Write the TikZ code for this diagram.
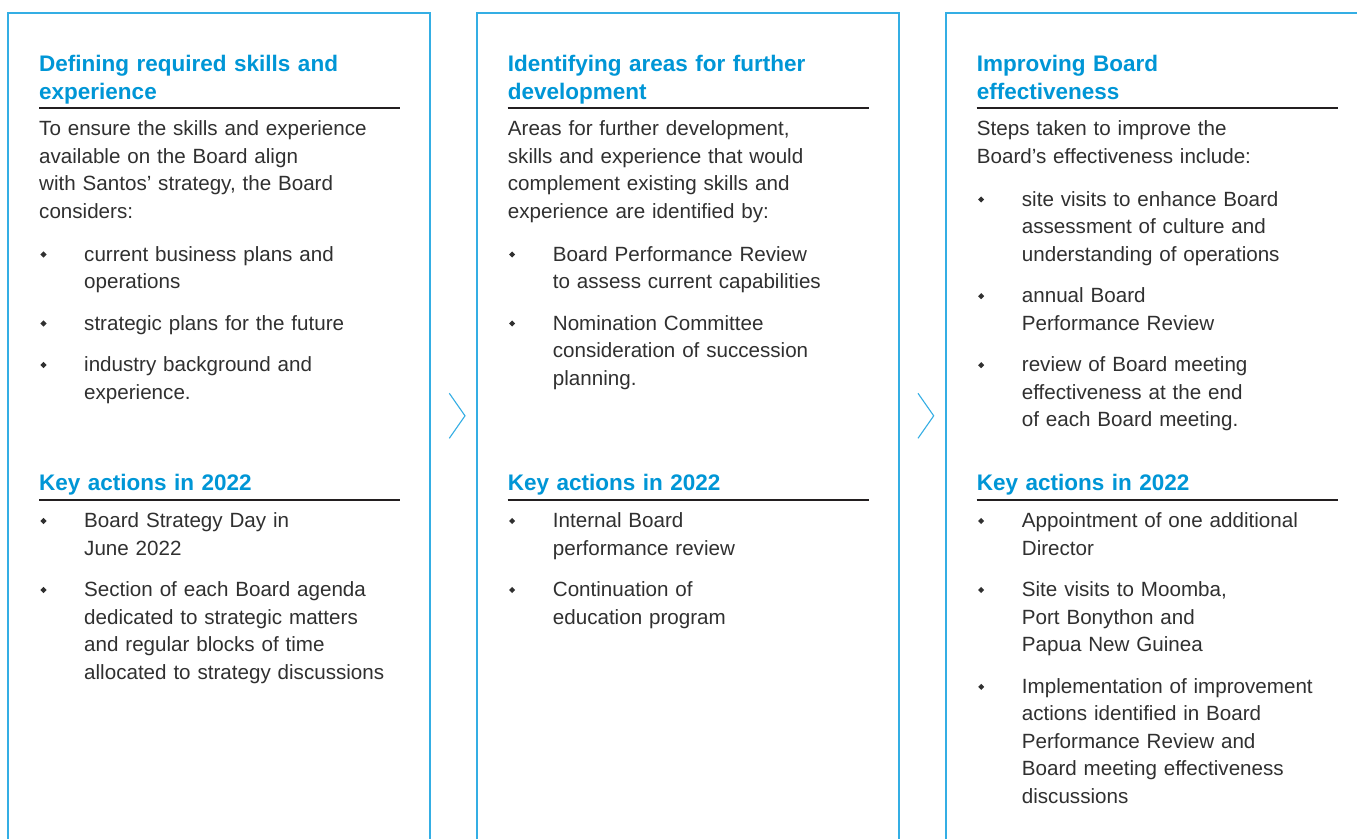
\documentclass[tikz,border=0pt]{standalone}
\usepackage{fontspec}
\setmainfont{Liberation Sans}
\usetikzlibrary{shapes.geometric}

\definecolor{panelblue}{RGB}{52,174,228}
\definecolor{headblue}{RGB}{0,150,214}
\definecolor{bodygray}{RGB}{48,48,48}
\definecolor{rulegray}{RGB}{35,31,32}

\tikzset{
  panelline/.style={draw=panelblue, line width=1.6pt},
  chevron/.style={draw=panelblue, line width=1.1pt},
  headrule/.style={draw=rulegray, line width=2pt},
  headtext/.style={anchor=base west, inner sep=0pt, text width=380pt, align=left,
    text=headblue, font=\fontsize{22.5}{27.6}\selectfont\bfseries},
  bodytext/.style={anchor=base west, inner sep=0pt, text width=360pt, align=left,
    text=bodygray, font=\fontsize{20.6}{27.5}\selectfont},
  bulletmark/.style={diamond, aspect=1, fill=bodygray, inner sep=0pt, minimum size=6.2pt},
}

% #1 name, #2 left edge of the text column, #3 baseline of the first line, #4 text
\newcommand\headblock[4]{\node[headtext] (#1) at (#2,#3) {#4};}
\newcommand\bodyblock[4]{\node[bodytext] (#1) at (#2,#3) {#4};}
\newcommand\bulletblock[4]{%
  \node[bulletmark] (#1-mark) at (#2+4.5,#3-6.5) {};
  \node[bodytext] (#1) at (#2+45,#3) {#4};}
% #1 name, #2 left edge, #3 height of the rule
\newcommand\titlerule[3]{%
  \coordinate (#1-a) at (#2,#3);
  \coordinate (#1-b) at (#2+361,#3);
  \draw[headrule] (#1-a) -- (#1-b);}

\begin{document}
\begin{tikzpicture}[x=1pt,y=-1pt]
\useasboundingbox (0,0) rectangle (1357,839);
\fill[white] (0,0) rectangle (1357,839);

% ---- panel frames, open at the bottom ----
\draw[panelline] (8,839) -- (8,12.7) -- (430,12.7) -- (430,839);
\draw[panelline] (476.7,839) -- (476.7,12.7) -- (899,12.7) -- (899,839);
\draw[panelline] (945.7,839) -- (945.7,12.7) -- (1358,12.7);

% ---- chevrons between the panels ----
\coordinate (c1a) at (449.3,393.3);
\coordinate (c1b) at (465,415.8);
\coordinate (c1c) at (449.3,438.3);
\draw[chevron] (c1a) -- (c1b) -- (c1c);
\coordinate (c2a) at (918,393.3);
\coordinate (c2b) at (933.7,415.8);
\coordinate (c2c) at (918,438.3);
\draw[chevron] (c2a) -- (c2b) -- (c2c);

% ---- panel 1 ----
\headblock{h1}{39}{71.7}{Defining required skills and\\experience}
\titlerule{r1}{39}{108.3}
\bodyblock{p1}{39}{135.5}{To ensure the skills and experience\\available on the Board align\\with Santos’ strategy, the Board\\considers:}
\bulletblock{p1b1}{39}{261}{current business plans and\\operations}
\bulletblock{p1b2}{39}{330}{strategic plans for the future}
\bulletblock{p1b3}{39}{371.5}{industry background and\\experience.}
\headblock{k1}{39}{490}{Key actions in 2022}
\titlerule{s1}{39}{499.5}
\bulletblock{k1b1}{39}{527.5}{Board Strategy Day in\\June 2022}
\bulletblock{k1b2}{39}{596.5}{Section of each Board agenda\\dedicated to strategic matters\\and regular blocks of time\\allocated to strategy discussions}

% ---- panel 2 ----
\headblock{h2}{507.7}{71.7}{Identifying areas for further\\development}
\titlerule{r2}{507.7}{108.3}
\bodyblock{p2}{507.7}{135.5}{Areas for further development,\\skills and experience that would\\complement existing skills and\\experience are identified by:}
\bulletblock{p2b1}{507.7}{261}{Board Performance Review\\to assess current capabilities}
\bulletblock{p2b2}{507.7}{330}{Nomination Committee\\consideration of succession\\planning.}
\headblock{k2}{507.7}{490}{Key actions in 2022}
\titlerule{s2}{507.7}{499.5}
\bulletblock{k2b1}{507.7}{527.5}{Internal Board\\performance review}
\bulletblock{k2b2}{507.7}{596.5}{Continuation of\\education program}

% ---- panel 3 ----
\headblock{h3}{976.7}{71.7}{Improving Board\\effectiveness}
\titlerule{r3}{976.7}{108.3}
\bodyblock{p3}{976.7}{135.5}{Steps taken to improve the\\Board’s effectiveness include:}
\bulletblock{p3b1}{976.7}{206}{site visits to enhance Board\\assessment of culture and\\understanding of operations}
\bulletblock{p3b2}{976.7}{302.7}{annual Board\\Performance Review}
\bulletblock{p3b3}{976.7}{371.7}{review of Board meeting\\effectiveness at the end\\of each Board meeting.}
\headblock{k3}{976.7}{490}{Key actions in 2022}
\titlerule{s3}{976.7}{499.5}
\bulletblock{k3b1}{976.7}{527.5}{Appointment of one additional\\Director}
\bulletblock{k3b2}{976.7}{596.5}{Site visits to Moomba,\\Port Bonython and\\Papua New Guinea}
\bulletblock{k3b3}{976.7}{693.3}{Implementation of improvement\\actions identified in Board\\Performance Review and\\Board meeting effectiveness\\discussions}
\end{tikzpicture}
\end{document}
